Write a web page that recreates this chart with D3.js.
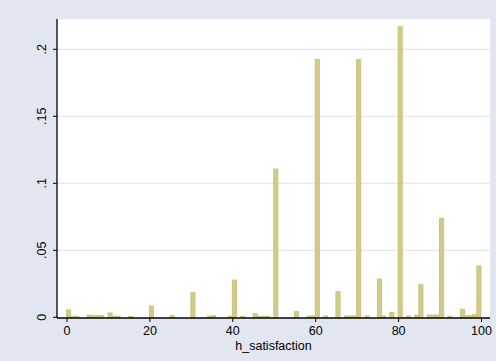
<!DOCTYPE html>
<html>
<head>
<meta charset="utf-8">
<script src="https://cdn.jsdelivr.net/npm/d3@7"></script>
<style>
    body { margin: 0; background: #e1e6f0; }
    svg { display: block; }
    text { font-family: "Liberation Sans", Arial, sans-serif; fill: #000; }
</style>
</head>
<body>
<div id="graphs_container"></div>
<script>

// histogram bins (left edge, width 1) and their density
var binStart = [0, 1, 2, 5, 6, 7, 8, 10, 11, 12, 15, 20, 25, 30, 34, 35, 39, 40, 42, 45,
    46, 47, 48, 50, 55, 58, 59, 60, 62, 65, 67, 68, 69, 70, 72, 75, 76, 78, 80, 82,
    84, 85, 87, 88, 89, 90, 92, 95, 96, 97, 98, 99];
var density = [0.0055, 0.0008, 0.0008, 0.0017, 0.0012, 0.0012, 0.0012, 0.0032, 0.0008, 0.0008,
    0.0007, 0.0084, 0.0012, 0.0184, 0.0008, 0.0012, 0.0008, 0.0278, 0.0008, 0.0027,
    0.0008, 0.0008, 0.0008, 0.1107, 0.0042, 0.0008, 0.0010, 0.1925, 0.0010, 0.0191,
    0.0010, 0.0010, 0.0010, 0.1925, 0.0010, 0.0286, 0.0010, 0.0037, 0.2169, 0.0010,
    0.0017, 0.0246, 0.0017, 0.0017, 0.0017, 0.0739, 0.0008, 0.0060, 0.0012, 0.0012,
    0.0020, 0.0383];
var binWidth = 1;

var xTicks = [0, 20, 40, 60, 80, 100];
var yTicks = [0, 0.05, 0.1, 0.15, 0.2];
var yTickLabels = ["0", ".05", ".1", ".15", ".2"];
var xTitle = "h_satisfaction";

var width = 496, height = 361;
var plot = {left: 57, right: 490, top: 19, bottom: 318};

var x = d3.scaleLinear().domain([0, 100]).range([66.5, 481]);
var y = d3.scaleLinear().domain([0, 0.2]).range([317.3, 49.3]);

var svg = d3.select("#graphs_container").append("svg")
    .attr("width", width)
    .attr("height", height);

// outer background + white plot region
svg.append("rect")
    .attr("width", width).attr("height", height)
    .attr("fill", "#e1e6f0");
svg.append("rect")
    .attr("x", plot.left).attr("y", plot.top)
    .attr("width", plot.right - plot.left)
    .attr("height", plot.bottom - plot.top)
    .attr("fill", "#ffffff");

// horizontal grid lines
svg.selectAll(".grid")
    .data(yTicks.slice(1))
    .enter().append("line")
    .attr("class", "grid")
    .attr("x1", plot.left).attr("x2", plot.right)
    .attr("y1", function(d) { return y(d); })
    .attr("y2", function(d) { return y(d); })
    .attr("stroke", "#e2e7f1")
    .attr("stroke-width", 1.2);

var bins = binStart.map(function(s, i) { return {start: s, value: density[i]}; });

// bars
svg.selectAll(".bar")
    .data(bins)
    .enter().append("rect")
    .attr("class", "bar")
    .attr("x", function(d) { return x(d.start); })
    .attr("width", function(d) { return x(d.start + binWidth) - x(d.start); })
    .attr("y", function(d) { return y(d.value); })
    .attr("height", function(d) { return y(0) - y(d.value); })
    .attr("fill", "#d3ca88")
    .attr("stroke", "#c9c07e")
    .attr("stroke-width", 0.9);

// x axis
var xAxis = svg.append("g")
    .attr("transform", "translate(0," + plot.bottom + ")")
    .call(d3.axisBottom(x).tickValues(xTicks).tickSize(4).tickPadding(4).tickFormat(d3.format("d")));
xAxis.select(".domain").remove();
xAxis.append("line")
    .attr("x1", plot.left).attr("x2", plot.right)
    .attr("stroke", "#000").attr("stroke-width", 1.3);
xAxis.selectAll("text")
    .style("font-size", "12.5px")
    .style("font-family", "'Liberation Sans', Arial, sans-serif");

// y axis
var yAxis = svg.append("g")
    .attr("transform", "translate(" + plot.left + ",0)")
    .call(d3.axisLeft(y).tickValues(yTicks).tickSize(4)
        .tickFormat(function(d, i) { return yTickLabels[i]; }));
yAxis.select(".domain").remove();
yAxis.append("line")
    .attr("y1", plot.top).attr("y2", plot.bottom)
    .attr("stroke", "#000").attr("stroke-width", 1.3);
yAxis.selectAll("text")
    .attr("x", null).attr("dy", null)
    .attr("text-anchor", "middle")
    .attr("transform", function(d) { return "translate(-11," + y(d) + ") rotate(-90)"; })
    .attr("y", 0)
    .style("font-size", "12.5px")
    .style("font-family", "'Liberation Sans', Arial, sans-serif");
yAxis.selectAll(".tick").attr("transform", null);
yAxis.selectAll(".tick line")
    .attr("y1", function(d) { return y(d); })
    .attr("y2", function(d) { return y(d); });

// axis title
svg.append("text")
    .attr("x", (plot.left + plot.right) / 2)
    .attr("y", 349.5)
    .attr("text-anchor", "middle")
    .style("font-size", "12.5px")
    .text(xTitle);

</script>
</body>
</html>
